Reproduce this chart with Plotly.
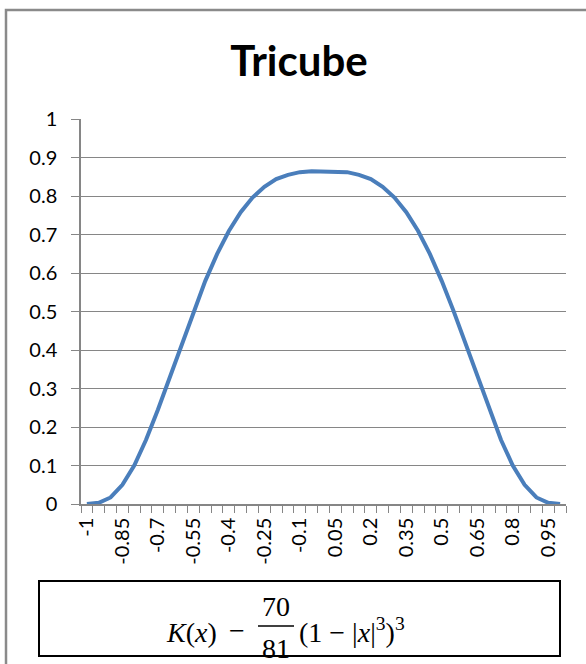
import plotly.graph_objects as go

# ---- data ----
x_values = [-1, -0.95, -0.9, -0.85, -0.8, -0.75, -0.7, -0.65, -0.6, -0.55, -0.5,
            -0.45, -0.4, -0.35, -0.3, -0.25, -0.2, -0.15, -0.1, -0.05, 0,
            0.05, 0.1, 0.15, 0.2, 0.25, 0.3, 0.35, 0.4, 0.45, 0.5,
            0.55, 0.6, 0.65, 0.7, 0.75, 0.8, 0.85, 0.9, 0.95, 1]
k_values = [0.000, 0.003, 0.017, 0.050, 0.100, 0.167, 0.245, 0.330, 0.416, 0.501, 0.579,
            0.649, 0.709, 0.758, 0.796, 0.824, 0.844, 0.855, 0.862, 0.864, 0.864,
            0.864, 0.862, 0.855, 0.844, 0.824, 0.796, 0.758, 0.709, 0.649, 0.579,
            0.501, 0.416, 0.330, 0.245, 0.167, 0.100, 0.050, 0.017, 0.003, 0.000]
x_tick_vals = [-1, -0.85, -0.7, -0.55, -0.4, -0.25, -0.1, 0.05, 0.2, 0.35, 0.5, 0.65, 0.8, 0.95]
x_tick_text = ["-1", "-0.85", "-0.7", "-0.55", "-0.4", "-0.25", "-0.1", "0.05", "0.2",
               "0.35", "0.5", "0.65", "0.8", "0.95"]
title_text = "Tricube"

# ---- layout geometry (pixels) ----
W, H = 586, 664
PL, PR, PT, PB = 81, 566, 119, 504   # plot area edges

def px(x):
    return (x - PL) / (PR - PL)

def py(y):
    return (PB - y) / (PB - PT)

FONT = "Lato, 'Open Sans', sans-serif"
GRID = "#868686"

fig = go.Figure()
fig.add_trace(go.Scatter(x=x_values, y=k_values, mode="lines",
                         line=dict(color="#4A7EBB", width=4),
                         showlegend=False, hoverinfo="x+y"))

fig.update_layout(
    width=W, height=H,
    margin=dict(l=PL, r=W - PR, t=PT, b=H - PB),
    paper_bgcolor="white", plot_bgcolor="white",
    font=dict(family=FONT, color="black"),
    title=dict(text="<b>" + title_text + "</b>", x=px(299), xref="paper",
               xanchor="center", y=1 - 61 / H, yanchor="middle",
               font=dict(size=42, family=FONT, color="black")),
)

fig.update_xaxes(
    range=[-1.025, 1.025], tickmode="array", tickvals=x_tick_vals, ticktext=x_tick_text,
    tickangle=-90, tickfont=dict(size=20, family=FONT, color="black"),
    ticks="", showgrid=False, zeroline=False,
    showline=True, linecolor=GRID, linewidth=1.5,
    minor=dict(tick0=-1.025, dtick=0.05, ticks="outside", ticklen=7,
               tickcolor=GRID, tickwidth=1.2, showgrid=False),
    ticklabelstandoff=4,
)
fig.update_yaxes(
    range=[0, 1], dtick=0.1, tick0=0, tickfont=dict(size=20, family=FONT, color="black"),
    showgrid=True, gridcolor=GRID, gridwidth=1.2, zeroline=False,
    showline=True, linecolor=GRID, linewidth=1.5,
    ticks="outside", ticklen=8, tickcolor=GRID, tickwidth=1.2,
    ticklabelstandoff=10,
)

shapes = []
# outer chart frame
shapes.append(dict(type="rect", xref="paper", yref="paper",
                   x0=px(6), x1=px(600), y0=py(10), y1=py(680),
                   line=dict(color="#8a8a8a", width=2.5), fillcolor="rgba(0,0,0,0)", layer="below"))
# formula box
shapes.append(dict(type="rect", xref="paper", yref="paper",
                   x0=px(39), x1=px(560), y0=py(581), y1=py(656),
                   line=dict(color="black", width=2), fillcolor="white"))
# fraction bar
shapes.append(dict(type="line", xref="paper", yref="paper",
                   x0=px(258), x1=px(294), y0=py(626), y1=py(626),
                   line=dict(color="black", width=1.5)))
fig.update_layout(shapes=shapes)

MF = dict(family="'Liberation Serif', 'DejaVu Serif', serif", size=28, color="black")
ann = [
    dict(text="<i>K</i>(<i>x</i>)", x=px(164), y=py(632), xanchor="left", yanchor="middle"),
    dict(text="−", x=px(237), y=py(630), xanchor="center", yanchor="middle"),
    dict(text="70", x=px(276), y=py(606), xanchor="center", yanchor="middle"),
    dict(text="81", x=px(276), y=py(648), xanchor="center", yanchor="middle"),
    dict(text="(1 − |<i>x</i>|<sup>3</sup>)<sup>3</sup>", x=px(297), y=py(630),
         xanchor="left", yanchor="middle"),
]
for a in ann:
    a.update(xref="paper", yref="paper", showarrow=False, font=MF)
fig.update_layout(annotations=ann)

fig.write_html("out.html")
